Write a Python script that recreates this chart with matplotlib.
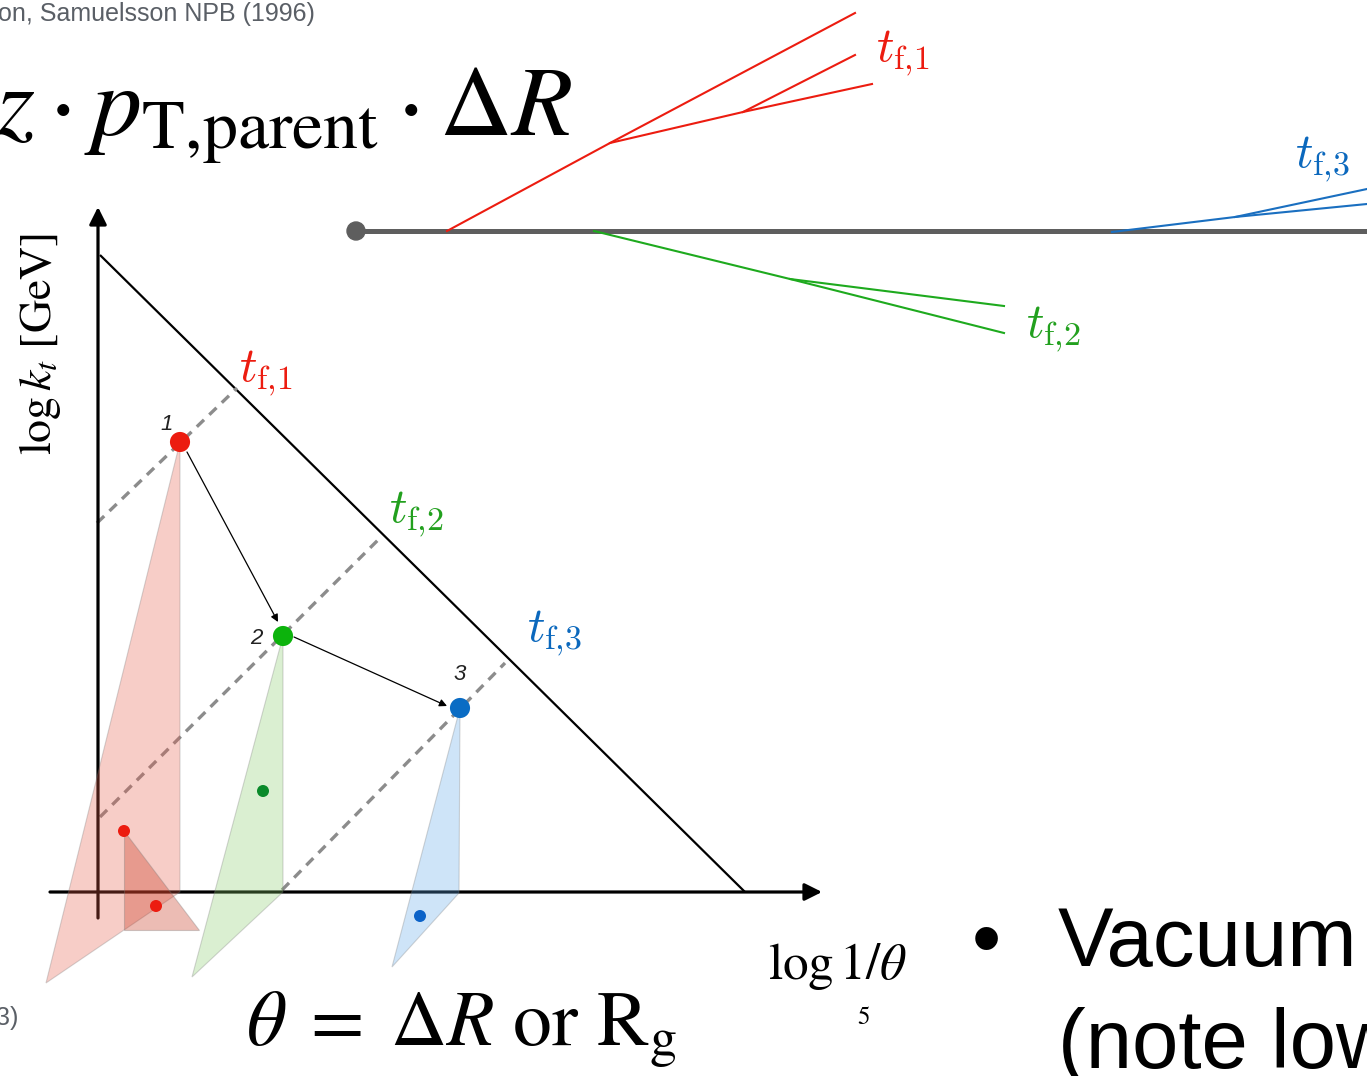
import matplotlib.pyplot as plt
from matplotlib.patches import Polygon, Circle

# colours
rouge = "#ec1c10"
vert = "#1eaa1e"
bleu = "#0b68bd"
gris = "#5e5e5e"

# lund plane (pixel coordinates of the slide)
axe_y = [(98, 918), (98, 207)]
axe_x = [(50, 892), (822, 892)]
diagonale = [(100, 255), (745, 892)]
tirets = [[(97, 523), (237, 388)],
          [(100, 817), (378, 540)],
          [(282, 890), (505, 663)]]
emissions_x = [180, 283, 460]
emissions_y = [442, 636, 708]
emissions_couleur = [rouge, "#0cb30c", "#0a6cc4"]
numeros = ["1", "2", "3"]
numeros_pos = [(167, 425), (256, 638), (460, 675)]
petits_x = [124, 156, 263, 420]
petits_y = [831, 906, 791, 916]
petits_couleur = [rouge, rouge, "#0a8a2a", "#0b62c8"]
cones = [[(180, 442), (46, 983), (180, 892)],
         [(283, 636), (192, 977), (283, 892)],
         [(460, 708), (392, 967), (459, 893)]]
cones_couleur = ["#e65a48", "#86cc68", "#5fa8ea"]
cone_secondaire = [(124, 831), (124, 930), (199, 930)]
fleches = [[(187, 452), (278, 622)], [(294, 637), (447, 706)]]
etiquettes_tf = [r"$t_{\mathrm{f{,}1}}$", r"$t_{\mathrm{f{,}2}}$", r"$t_{\mathrm{f{,}3}}$"]
etiquettes_pos = [(239, 381), (389, 522), (527, 641)]

# the clustering tree on the right
tronc = [(356, 231), (1367, 231)]
branches_rouges = [[(447, 231), (610, 143), (855, 13)],
                   [(610, 143), (743, 112), (872, 84)],
                   [(743, 112), (855, 55)]]
branches_vertes = [[(594, 231), (790, 279), (1004, 333)],
                   [(790, 279), (1004, 306)]]
branches_bleues = [[(1112, 232), (1235, 217), (1367, 189)],
                   [(1235, 217), (1367, 204)]]
arbre_tf_pos = [(876, 61), (1026, 337), (1295, 167)]

fig = plt.figure(figsize=(13.67, 10.76), dpi=100)
ax = fig.add_axes([0, 0, 1, 1])
ax.set_xlim(0, 1367)
ax.set_ylim(1076, 0)
ax.axis("off")

# axes du plan
for a in (axe_y, axe_x):
    ax.annotate("", xy=a[1], xytext=a[0],
                arrowprops=dict(arrowstyle="-|>", lw=2.3, color="k",
                                mutation_scale=26, shrinkA=0, shrinkB=0))
ax.plot(*zip(*diagonale), color="k", lw=1.6, solid_capstyle="butt")
for t in tirets:
    ax.plot(*zip(*t), color="#8c8c8c", lw=2.4, dashes=(3, 2.2))

# cones
for c, col in zip(cones, cones_couleur):
    ax.add_patch(Polygon(c, closed=True, facecolor=col, alpha=0.3,
                         edgecolor="#777777", lw=0.8, zorder=3))
ax.add_patch(Polygon(cone_secondaire, closed=True, facecolor="#c8341c", alpha=0.33,
                     edgecolor="#777777", lw=0.8, zorder=3))

for f in fleches:
    ax.annotate("", xy=f[1], xytext=f[0],
                arrowprops=dict(arrowstyle="-|>", lw=0.9, color="k",
                                mutation_scale=11, shrinkA=0, shrinkB=0), zorder=4)

ax.scatter(emissions_x, emissions_y, s=210, c=emissions_couleur, zorder=5, linewidths=0)
ax.scatter(petits_x, petits_y, s=75, c=petits_couleur, zorder=5, linewidths=0)
for n, p in zip(numeros, numeros_pos):
    ax.text(p[0], p[1], n, fontsize=16, style="italic", ha="center", va="center",
            family="Liberation Sans", color="#222222")

for lab, p, col in zip(etiquettes_tf, etiquettes_pos, [rouge, "#22a01e", bleu]):
    ax.text(p[0], p[1], lab, fontsize=35, color=col, va="baseline", math_fontfamily="cm")

ax.text(40, 344, r"$\log k_t$ [GeV]", rotation=90, fontsize=33, ha="center", va="center",
        family="STIXGeneral", math_fontfamily="stix")
ax.text(838, 966, r"$\log 1/\theta$", fontsize=37, ha="center", va="center",
        family="STIXGeneral", math_fontfamily="stix")
ax.text(864, 1018, "5", fontsize=18, ha="center", va="center", family="STIXGeneral")
ax.text(246, 1045, r"$\theta\;=\;\Delta R\ \mathrm{or}\ \mathrm{R}_\mathrm{g}$", fontsize=56,
        va="baseline", math_fontfamily="stix")

# arbre
ax.plot(*zip(*tronc), color=gris, lw=3.6, solid_capstyle="butt", zorder=2)
ax.add_patch(Circle(tronc[0], 9, color=gris, zorder=3))
for groupe, col in ((branches_rouges, rouge), (branches_vertes, vert), (branches_bleues, "#1a6fc0")):
    for b in groupe:
        ax.plot(*zip(*b), color=col, lw=1.5, zorder=3)
for lab, p, col in zip(etiquettes_tf, arbre_tf_pos, [rouge, "#22a01e", bleu]):
    ax.text(p[0], p[1], lab, fontsize=35, color=col, va="baseline", math_fontfamily="cm")

# textes de la diapo
ax.text(-2, 14, "on, Samuelsson NPB (1996)", fontsize=18, color="#5a5f66",
        va="center", family="Liberation Sans")
ax.text(-4, 1018, "3)", fontsize=18, color="#5a5f66", va="center", family="Liberation Sans")
ax.text(572, 135, r"$z \cdot p_{\mathrm{T{,}parent}} \cdot \Delta R$", fontsize=72,
        ha="right", va="baseline", math_fontfamily="stix")
ax.text(972, 966, "\u2022", fontsize=60, va="baseline", family="Liberation Sans")
ax.text(1058, 966, "Vacuum", fontsize=60, va="baseline", family="Liberation Sans")
ax.text(1058, 1068, "(note low", fontsize=60, va="baseline", family="Liberation Sans")

fig.savefig("out.png", dpi=100)
